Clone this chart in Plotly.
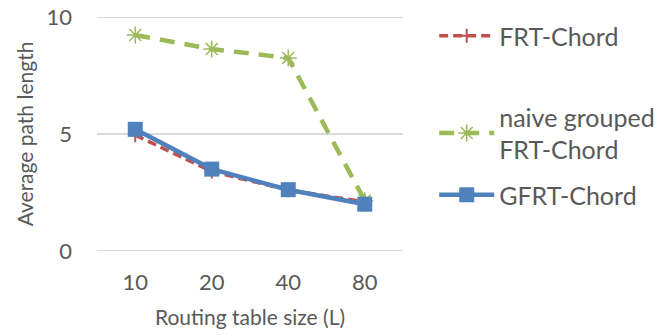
import plotly.graph_objects as go

# Routing table size categories and average path length per scheme
table_sizes = ["10", "20", "40", "80"]
frt_chord = [4.95, 3.4, 2.6, 2.1]
naive_grouped = [9.23, 8.63, 8.25, 2.15]
gfrt_chord = [5.2, 3.5, 2.62, 2.0]
y_ticks = [0, 5, 10]

RED = "#C0504D"
GREEN = "#9BBB59"
BLUE = "#4F81BD"
TEXT = "#595959"
GRID = "#D9D9D9"
FONT = "Lato"

fig = go.Figure()

# horizontal gridlines at each y tick, drawn beneath the series
for v in y_ticks:
    fig.add_hline(y=v, line=dict(color=GRID, width=2), layer="below")

fig.add_trace(go.Scatter(
    x=table_sizes, y=frt_chord, name="FRT-Chord", mode="lines+markers",
    line=dict(color=RED, width=3.5, dash="9px,5px"),
    marker=dict(symbol="cross-thin-open", size=10, line=dict(color=RED, width=2)),
    legend="legend",
))
fig.add_trace(go.Scatter(
    x=table_sizes, y=naive_grouped, name="naive grouped<br>FRT-Chord", mode="lines+markers",
    line=dict(color=GREEN, width=4.5, dash="15px,10px"),
    marker=dict(symbol="asterisk-open", size=14, line=dict(color=GREEN, width=1.5)),
    legend="legend2",
))
fig.add_trace(go.Scatter(
    x=table_sizes, y=gfrt_chord, name="GFRT-Chord", mode="lines+markers",
    line=dict(color=BLUE, width=4.5),
    marker=dict(symbol="square", size=15, color=BLUE),
    legend="legend3",
))

legend_common = dict(
    xref="container", yref="container",
    x=0.650, xanchor="left", yanchor="middle",
    font=dict(family=FONT, size=25, color=TEXT),
    bgcolor="rgba(0,0,0,0)", itemwidth=55,
)

fig.update_layout(
    width=668, height=335,
    margin=dict(l=97, r=265, t=17, b=84, autoexpand=False),
    paper_bgcolor="white", plot_bgcolor="white",
    font=dict(family=FONT, color=TEXT),
    showlegend=True,
    legend=dict(y=1 - 36 / 335, **legend_common),
    legend2=dict(y=1 - 133 / 335, **legend_common),
    legend3=dict(y=1 - 195 / 335, **legend_common),
    xaxis=dict(
        type="category", range=[-0.5, 3.5],
        showgrid=False, showline=False, zeroline=False, ticks="",
        ticklabelstandoff=16,
        tickfont=dict(family=FONT, size=22, color=TEXT),
        title=dict(text="Routing table size (L)", font=dict(family=FONT, size=21, color=TEXT), standoff=16),
    ),
    yaxis=dict(
        range=[0, 10], tickvals=y_ticks,
        showgrid=False, zeroline=False, showline=False, ticks="",
        ticklabelstandoff=24,
        tickfont=dict(family=FONT, size=22, color=TEXT),
        title=dict(text="Average path length", font=dict(family=FONT, size=21, color=TEXT), standoff=7),
    ),
)

fig.write_html("out.html")
